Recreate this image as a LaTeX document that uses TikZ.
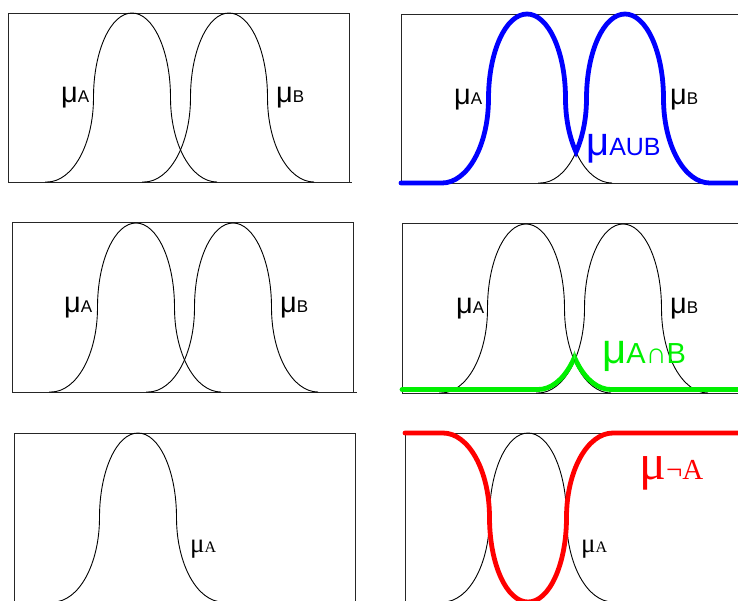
\documentclass[tikz,border=0pt]{standalone}
\usepackage{fontspec}
\setmainfont{Liberation Sans}
\newfontfamily\serifface{Liberation Serif}
\def\bW{85}\def\bw{38.5}\def\bh{84.5}\def\bk{0.5523}
% bump (membership curve) starting with a line to its left foot
\newcommand\bumpseg[2]{%
 -- ({#1-\bW},#2) .. controls ({#1-\bW+\bk*(\bW-\bw)},#2) and ({#1-\bw},{#2-\bh+\bk*\bh}) .. ({#1-\bw},{#2-\bh})
 .. controls ({#1-\bw},{#2-\bh-\bk*\bh}) and ({#1-\bk*\bw},{#2-2*\bh}) .. (#1,{#2-2*\bh})
 .. controls ({#1+\bk*\bw},{#2-2*\bh}) and ({#1+\bw},{#2-\bh-\bk*\bh}) .. ({#1+\bw},{#2-\bh})
 .. controls ({#1+\bw},{#2-\bh+\bk*\bh}) and ({#1+\bW-\bk*(\bW-\bw)},#2) .. ({#1+\bW},#2)}
% inverted bump (complement) hanging from a top line
\newcommand\invbumpseg[2]{%
 -- ({#1-\bW},#2) .. controls ({#1-\bW+\bk*(\bW-\bw)},#2) and ({#1-\bw},{#2+\bh-\bk*\bh}) .. ({#1-\bw},{#2+\bh})
 .. controls ({#1-\bw},{#2+\bh+\bk*\bh}) and ({#1-\bk*\bw},{#2+2*\bh}) .. (#1,{#2+2*\bh})
 .. controls ({#1+\bk*\bw},{#2+2*\bh}) and ({#1+\bw},{#2+\bh+\bk*\bh}) .. ({#1+\bw},{#2+\bh})
 .. controls ({#1+\bw},{#2+\bh-\bk*\bh}) and ({#1+\bW-\bk*(\bW-\bw)},#2) .. ({#1+\bW},#2)}
\newcommand\blackbump[2]{\draw[curve] ({#1-\bW-2},#2) \bumpseg{#1}{#2};}
\definecolor{ublue}{RGB}{0,0,255}
\definecolor{igreen}{RGB}{0,240,0}
\definecolor{cred}{RGB}{255,0,0}
\tikzset{
  frame/.style={draw=black!85, line width=1pt},
  curve/.style={draw=black, line width=0.9pt},
  fat/.style={line width=4.8pt, line cap=round, line join=round},
  lab/.style={inner sep=0pt, anchor=base west},
}
\newcommand\mulab[1]{{\fontsize{29}{29}\selectfont μ}{\fontsize{17}{17}\selectfont #1}}
\newcommand\mulabserif[1]{{\serifface\fontsize{27}{27}\selectfont μ}{\serifface\fontsize{16}{16}\selectfont #1}}
\begin{document}
\begin{tikzpicture}[x=1pt,y=-1pt]
\useasboundingbox (0,0) rectangle (738,600);
% ---------- panel 1 (top left)
\draw[frame] (8,182) -- (8,13) -- (349,13) -- (349,182);
\draw[frame] (8,182) -- (352,182);
\blackbump{132}{182}
\blackbump{229}{182}
\node[lab] (p1a) at (61,102) {\mulab{A}};
\node[lab] (p1b) at (276,102) {\mulab{B}};
% ---------- panel 2 (top right): union
\draw[frame] (745,14) -- (401,14) -- (401,183) -- (745,183);
\blackbump{527}{183}
\blackbump{625}{183}
\begin{scope}
  \clip (390,0) rectangle (576,200);
  \draw[ublue, fat] (401,183) \bumpseg{527}{183};
\end{scope}
\begin{scope}
  \clip (576,0) rectangle (745,200);
  \draw[ublue, fat] (500,183) \bumpseg{625}{183} -- (745,183);
\end{scope}
\node[lab] (p2a) at (454,104) {\mulab{A}};
\node[lab] (p2b) at (670,104) {\mulab{B}};
\node[lab, text=ublue] (p2u) at (586,155) {{\fontsize{40}{40}\selectfont μ}{\fontsize{25}{25}\selectfont AUB}};
% ---------- panel 3 (middle left)
\draw[frame] (12,392) -- (12,222) -- (353,222) -- (353,392);
\draw[frame] (12,392) -- (357,392);
\blackbump{136}{392}
\blackbump{233}{392}
\node[lab] (p3a) at (64,312) {\mulab{A}};
\node[lab] (p3b) at (280,312) {\mulab{B}};
% ---------- panel 4 (middle right): intersection
\draw[frame] (745,223) -- (402,223) -- (402,393) -- (745,393);
\blackbump{526}{393}
\blackbump{623}{393}
\begin{scope}
  \clip (390,200) rectangle (574.5,400);
  \draw[igreen, fat] (402,389.5) \bumpseg{623}{389.5};
\end{scope}
\begin{scope}
  \clip (574.5,200) rectangle (745,400);
  \draw[igreen, fat] (402,389.5) \bumpseg{526}{389.5} -- (745,389.5);
\end{scope}
\node[lab] (p4a) at (456,313) {\mulab{A}};
\node[lab] (p4b) at (670,313) {\mulab{B}};
\node[lab, text=igreen] (p4i) at (602,363) {{\fontsize{42}{42}\selectfont μ}{\fontsize{29}{29}\selectfont A∩B}};
% ---------- panel 5 (bottom left)
\draw[frame] (14,610) -- (14,433) -- (355,433) -- (355,610);
\blackbump{138}{602}
\node[lab] (p5a) at (190,552) {\mulabserif{A}};
% ---------- panel 6 (bottom right): complement
\draw[frame] (745,433) -- (405,433) -- (405,610);
\blackbump{528}{602}
\draw[cred, fat] (405,433) \invbumpseg{528}{433} -- (745,433);
\node[lab] (p6a) at (581,552) {\mulabserif{A}};
\node[lab, text=cred] (p6c) at (639,479) {{\serifface\fontsize{50}{50}\selectfont μ}{\serifface\fontsize{29}{29}\selectfont ¬A}};
\end{tikzpicture}
\end{document}
